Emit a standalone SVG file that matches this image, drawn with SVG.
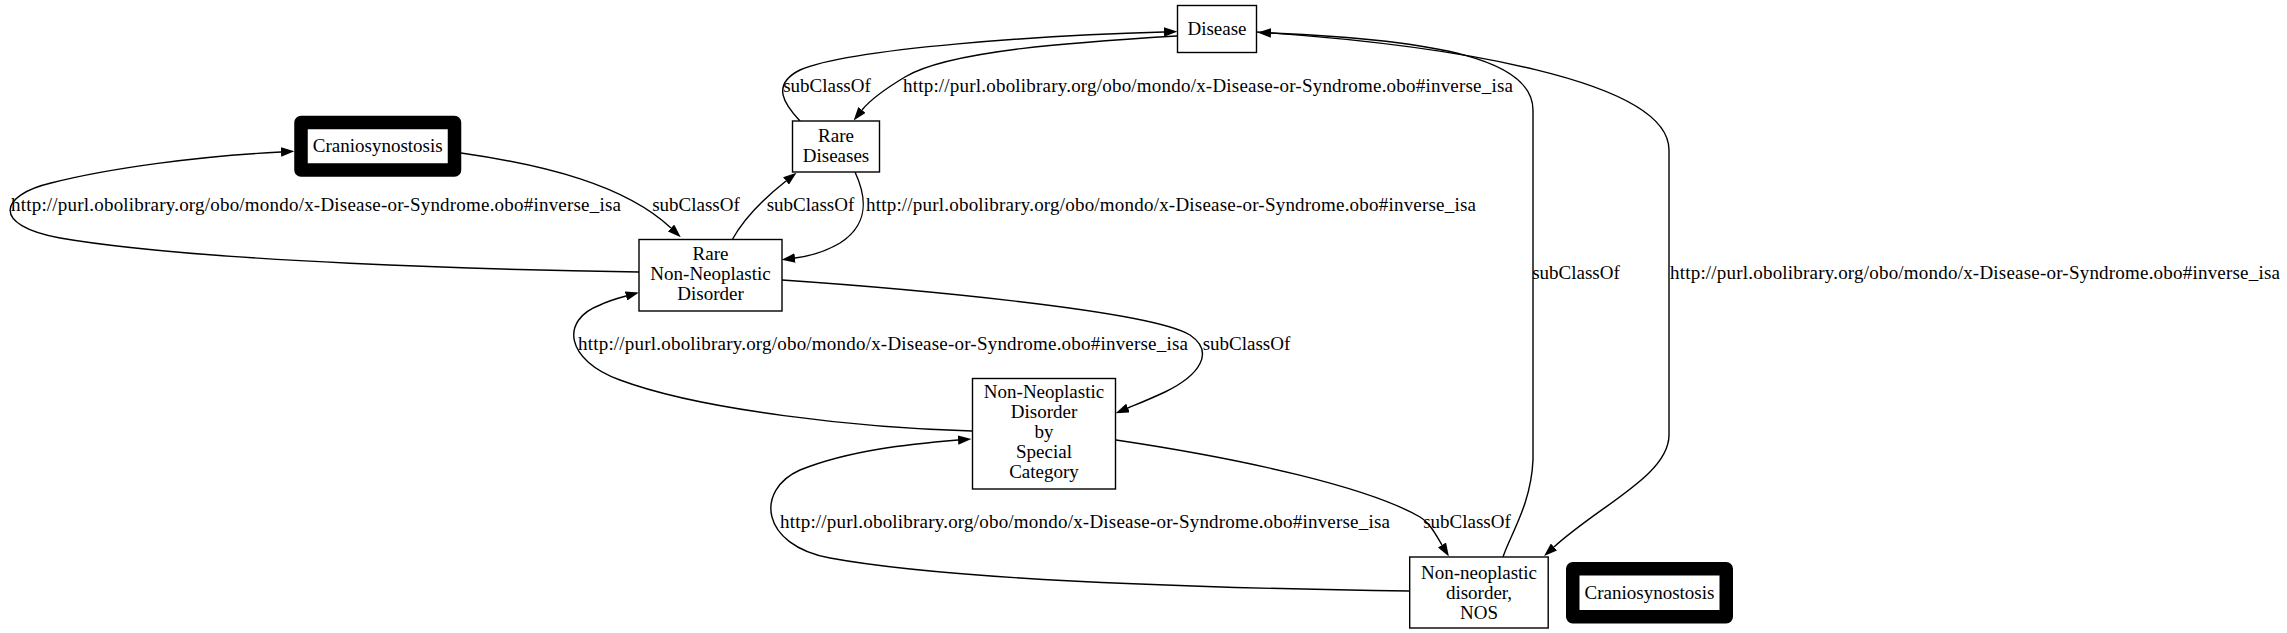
<svg xmlns="http://www.w3.org/2000/svg" width="2287" height="633" viewBox="0 0 2287 633">
<style>
text{font-family:"Liberation Serif","Times New Roman",serif;font-size:19px;fill:#000;text-anchor:middle}
.box{fill:#fff;stroke:#000;stroke-width:1.4}
.thick{fill:#fff;stroke:#000;stroke-width:13.5;stroke-linejoin:round}
.edge{fill:none;stroke:#000;stroke-width:1.4;marker-end:url(#arr)}
</style>
<defs>
<marker id="arr" markerUnits="userSpaceOnUse" viewBox="0 0 13.4 9.4" refX="0" refY="4.7" markerWidth="13.4" markerHeight="9.4" orient="auto">
<path d="M0,0 L13.4,4.7 L0,9.4 Z" fill="#000"/>
</marker>
</defs>
<rect width="2287" height="633" fill="#fff"/>
<g id="edges">
<path class="edge" d="M461,153 C545,165 625,185 671,228"/>
<path class="edge" d="M639,272 C500,270 200,262 60,238 C-10,225 0,195 51,183 C110,168 200,156 281,152"/>
<path class="edge" d="M732,240 C742,222 762,200 786,181"/>
<path class="edge" d="M855,172 C868,200 868,225 840,243 C825,252 810,256 795,258"/>
<path class="edge" d="M800,121 C785,105 770,85 800,70 C850,48 1050,35 1164,32"/>
<path class="edge" d="M1177,36 C1080,42 950,50 905,77 C885,89 870,100 862,110"/>
<path class="edge" d="M782,280 C900,288 1150,310 1190,335 C1215,352 1200,375 1165,392 C1150,399 1140,403 1128,408"/>
<path class="edge" d="M972,431 C860,428 700,410 620,380 C565,360 560,320 600,305 C608,301 615,299 626,296"/>
<path class="edge" d="M1116,440 C1250,460 1370,488 1420,517 C1430,523 1436,535 1442,545"/>
<path class="edge" d="M1410,591 C1200,588 950,580 830,558 C760,545 755,490 800,470 C850,450 910,444 958,440"/>
<path class="edge" d="M1503,557 C1510,535 1531,505 1533,460 L1533,110 C1533,60 1440,40 1271,33"/>
<path class="edge" d="M1257,32 C1450,45 1669,80 1669,150 L1669,435 C1669,475 1600,505 1554,547"/>
<text x="696" y="211">subClassOf</text>
<text x="316" y="211" textLength="610" lengthAdjust="spacing">http://purl.obolibrary.org/obo/mondo/x-Disease-or-Syndrome.obo#inverse_isa</text>
<text x="810.5" y="211">subClassOf</text>
<text x="1171" y="211" textLength="610" lengthAdjust="spacing">http://purl.obolibrary.org/obo/mondo/x-Disease-or-Syndrome.obo#inverse_isa</text>
<text x="827" y="91.5">subClassOf</text>
<text x="1208" y="91.5" textLength="610" lengthAdjust="spacing">http://purl.obolibrary.org/obo/mondo/x-Disease-or-Syndrome.obo#inverse_isa</text>
<text x="1246.5" y="349.5">subClassOf</text>
<text x="883" y="349.5" textLength="610" lengthAdjust="spacing">http://purl.obolibrary.org/obo/mondo/x-Disease-or-Syndrome.obo#inverse_isa</text>
<text x="1467" y="528">subClassOf</text>
<text x="1085" y="528" textLength="610" lengthAdjust="spacing">http://purl.obolibrary.org/obo/mondo/x-Disease-or-Syndrome.obo#inverse_isa</text>
<text x="1576" y="279">subClassOf</text>
<text x="1975" y="279" textLength="610" lengthAdjust="spacing">http://purl.obolibrary.org/obo/mondo/x-Disease-or-Syndrome.obo#inverse_isa</text>
</g>
<g id="disease">
<rect class="box" x="1177.5" y="5.5" width="79" height="47"/>
<text x="1217" y="34.5">Disease</text>
</g>
<g id="rare-diseases">
<rect class="box" x="792.5" y="121" width="87" height="51"/>
<text x="836" y="142">Rare</text>
<text x="836" y="162">Diseases</text>
</g>
<g id="rare-non-neoplastic-disorder">
<rect class="box" x="639" y="239.5" width="143" height="71.5"/>
<text x="710.5" y="260">Rare</text>
<text x="710.5" y="280">Non-Neoplastic</text>
<text x="710.5" y="300">Disorder</text>
</g>
<g id="craniosynostosis-1">
<rect class="thick" x="301" y="122.5" width="153.5" height="47.5"/>
<text x="377.75" y="152">Craniosynostosis</text>
</g>
<g id="non-neoplastic-by-special-category">
<rect class="box" x="972.5" y="378.5" width="143" height="110.5"/>
<text x="1044" y="398">Non-Neoplastic</text>
<text x="1044" y="418">Disorder</text>
<text x="1044" y="438">by</text>
<text x="1044" y="458">Special</text>
<text x="1044" y="478">Category</text>
</g>
<g id="non-neoplastic-nos">
<rect class="box" x="1409.7" y="557" width="138.5" height="71"/>
<text x="1479" y="578.5">Non-neoplastic</text>
<text x="1479" y="598.5">disorder,</text>
<text x="1479" y="618.5">NOS</text>
</g>
<g id="craniosynostosis-2">
<rect class="thick" x="1572.75" y="568.75" width="153.5" height="48"/>
<text x="1649.5" y="598.5">Craniosynostosis</text>
</g>
</svg>
